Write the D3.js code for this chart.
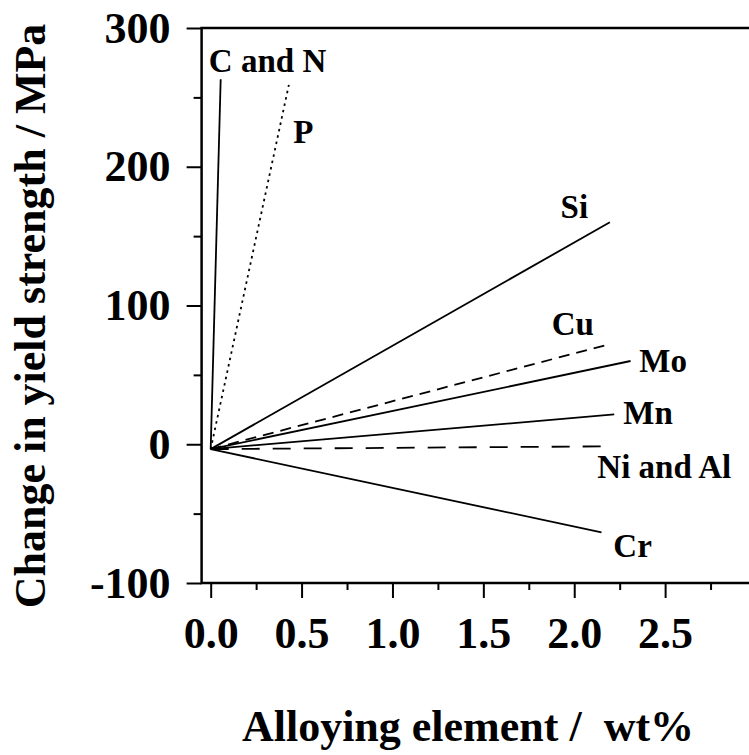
<!DOCTYPE html>
<html>
<head>
<meta charset="utf-8">
<script src="https://cdn.jsdelivr.net/npm/d3@7"></script>
<style>
  body { margin: 0; }
  text { font-family: "Liberation Serif" !important; font-weight: bold; }
</style>
</head>
<body>
<script>
// values (wt%, change in MPa)
const elements = ["C and N", "P", "Si", "Cu", "Mo", "Mn", "Ni and Al", "Cr"];
const startWt = [0, 0, 0, 0, 0, 0, 0, 0];
const startMPa = [-3.5, -3.5, -3.5, -3.5, -3.5, -3.5, -3.5, -3.5];
const endWt = [0.055, 0.43, 2.196, 2.175, 2.31, 2.22, 2.19, 2.15];
const endMPa = [263, 259, 160, 71.5, 60, 21.5, -1.5, -63.5];
const labelWt = [-0.01, 0.454, 1.925, 1.876, 2.358, 2.27, 2.127, 2.215];
const labelMPa = [268.6, 216.9, 162.8, 78.6, 52.1, 14.4, -24.3, -81.3];

const xTicks = [0, 0.5, 1.0, 1.5, 2.0, 2.5];
const xMinor = [0.25, 0.75, 1.25, 1.75, 2.25, 2.75];
const yTicks = [-100, 0, 100, 200, 300];
const yMinor = [-50, 50, 150, 250];

const xTitle = "Alloying element /  wt%";
const yTitle = "Change in yield strength / MPa";

const width = 749, height = 755;
const svg = d3.select("body").append("svg")
    .attr("width", width)
    .attr("height", height)
    .attr("font-family", "Liberation Serif")
    .attr("font-weight", "bold");

const x = d3.scaleLinear().domain([-0.05, 3.0]).range([201.6, 756]);
const y = d3.scaleLinear().domain([-100, 300]).range([583, 28]);

const dashFor = {"P": "2.5,4", "Cu": "11,7", "Ni and Al": "18,13"};

function font(sel, size) {
    sel.attr("font-family", "Liberation Serif")
        .attr("font-weight", "bold")
        .attr("font-size", size)
        .attr("fill", "#000");
}

// frame (right side falls just outside the picture)
svg.append("rect")
    .attr("x", x(-0.05)).attr("y", y(300))
    .attr("width", x(3.0) - x(-0.05)).attr("height", y(-100) - y(300))
    .attr("fill", "none").attr("stroke", "#000").attr("stroke-width", 2.5);

function styleAxis(g) {
    g.attr("font-family", "Liberation Serif").attr("font-size", 44);
    g.select(".domain").remove();
    g.selectAll(".tick line").attr("stroke", "#000").attr("stroke-width", 2);
    g.selectAll(".tick text").call(font, 44);
}

// x axis
svg.append("g").attr("transform", `translate(0,${y(-100)})`)
    .call(d3.axisBottom(x).tickValues(xTicks).tickSize(15).tickPadding(19).tickFormat(d => d.toFixed(1)))
    .call(styleAxis);
svg.append("g").attr("transform", `translate(0,${y(-100)})`)
    .call(d3.axisBottom(x).tickValues(xMinor).tickSize(7).tickFormat(""))
    .call(styleAxis);

// y axis
svg.append("g").attr("transform", `translate(${x(-0.05)},0)`)
    .call(d3.axisLeft(y).tickValues(yTicks).tickSize(15).tickPadding(16).tickFormat(d => String(d)))
    .call(styleAxis);
svg.append("g").attr("transform", `translate(${x(-0.05)},0)`)
    .call(d3.axisLeft(y).tickValues(yMinor).tickSize(8).tickFormat(""))
    .call(styleAxis);

// lines
const rows = elements.map((name, i) => ({
    name, x0: startWt[i], y0: startMPa[i], x1: endWt[i], y1: endMPa[i], lx: labelWt[i], ly: labelMPa[i]
}));

svg.selectAll("line.series")
    .data(rows)
    .enter()
    .append("line")
    .attr("class", "series")
    .attr("x1", d => x(d.x0)).attr("y1", d => y(d.y0))
    .attr("x2", d => x(d.x1)).attr("y2", d => y(d.y1))
    .attr("stroke", "#000")
    .attr("stroke-width", 1.8)
    .attr("stroke-dasharray", d => dashFor[d.name] || null);

svg.selectAll("text.label")
    .data(rows)
    .enter()
    .append("text")
    .attr("class", "label")
    .attr("x", d => x(d.lx))
    .attr("y", d => y(d.ly))
    .call(font, 33)
    .text(d => d.name);

// titles
svg.append("text")
    .attr("x", 468).attr("y", 741)
    .attr("text-anchor", "middle")
    .call(font, 44)
    .attr("xml:space", "preserve")
    .style("white-space", "pre")
    .text(xTitle);

svg.append("text")
    .attr("transform", "translate(45,316) rotate(-90)")
    .attr("text-anchor", "middle")
    .call(font, 44)
    .text(yTitle);
</script>
</body>
</html>
